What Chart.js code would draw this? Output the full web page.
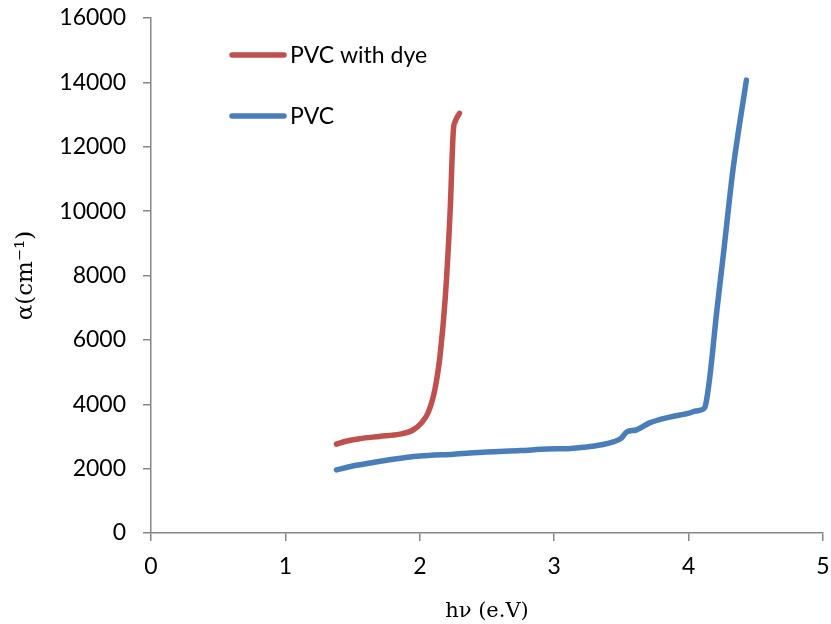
<!DOCTYPE html>
<html>
<head>
<meta charset="utf-8">
<script src="https://cdn.jsdelivr.net/npm/chart.js@4/dist/chart.umd.min.js"></script>
<style>
  html, body { margin: 0; padding: 0; background: #fff; }
  #wrap { width: 831px; height: 624px; }
</style>
</head>
<body>
<div id="wrap"><canvas id="chartCanvas" width="831" height="624"></canvas></div>
<script>
// photon energy (eV) vs absorption coefficient (cm-1)
const dyeEnergy = [1.38, 1.45, 1.55, 1.70, 1.85, 1.95, 2.01, 2.06, 2.10, 2.125, 2.15, 2.19, 2.225, 2.25, 2.265, 2.295]
const dyeAlpha  = [2760, 2850, 2930, 3000, 3070, 3200, 3410, 3720, 4230, 4750, 5480, 7340, 9930, 12520, 12800, 13040]

const pvcEnergy = [1.38, 1.50, 1.63, 1.80, 2.00, 2.25, 2.50, 2.75, 2.95, 3.10, 3.24, 3.35, 3.44, 3.50,
                   3.54, 3.61, 3.71, 3.86, 4.01, 4.05, 4.11, 4.125, 4.155, 4.21, 4.26, 4.33, 4.43]
const pvcAlpha  = [1960, 2080, 2175, 2290, 2390, 2450, 2516, 2560, 2610, 2620, 2670, 2740, 2830, 2950,
                   3140, 3200, 3420, 3600, 3730, 3790, 3850, 3950, 4750, 6900, 8700, 11280, 14070]

const seriesNames = ['PVC with dye', 'PVC']
const xTicks = [0, 1, 2, 3, 4, 5]
const yTicks = [0, 2000, 4000, 6000, 8000, 10000, 12000, 14000, 16000]

function toPoints(xs, ys) {
    return xs.map((x, i) => ({ x: x, y: ys[i] }))
}

const axisColor = '#868686'
const tickFont = { family: 'Lato', size: 23 }

// legend sits inside the plot, drawn by hand
const insideLegend = {
    id: 'insideLegend',
    afterDraw(chart) {
        const ctx = chart.ctx
        const rows = [55, 116]
        ctx.save()
        chart.data.datasets.forEach((ds, i) => {
            const y = rows[i]
            ctx.strokeStyle = ds.borderColor
            ctx.lineWidth = 5.5
            ctx.lineCap = 'round'
            ctx.beginPath()
            ctx.moveTo(232, y)
            ctx.lineTo(284, y)
            ctx.stroke()
            ctx.fillStyle = '#000'
            ctx.font = '23px Lato'
            ctx.textBaseline = 'middle'
            ctx.fillText(ds.label, 290, y + 1)
        })
        ctx.restore()
    }
}

// keep the plot box fixed: no extra room for edge tick labels
function noEdgePadding(scale) {
    scale.paddingLeft = 0
    scale.paddingRight = 0
    scale.paddingTop = 0
    scale.paddingBottom = 0
}

const ctx = document.getElementById('chartCanvas')
new Chart(ctx, {
    type: 'scatter',
    data: {
        datasets: [{
            label: seriesNames[0],
            data: toPoints(dyeEnergy, dyeAlpha),
            borderColor: '#C0504D',
            backgroundColor: '#C0504D',
        }, {
            label: seriesNames[1],
            data: toPoints(pvcEnergy, pvcAlpha),
            borderColor: '#4A7EBB',
            backgroundColor: '#4A7EBB',
        }]
    },
    options: {
        responsive: false,
        animation: false,
        events: [],
        layout: { padding: { left: 0, right: 8, top: 18, bottom: 0 } },
        elements: {
            point: { radius: 0 },
            line: {
                borderWidth: 5.5,
                cubicInterpolationMode: 'monotone',
                borderCapStyle: 'round',
                borderJoinStyle: 'round',
            }
        },
        datasets: { scatter: { showLine: true } },
        plugins: {
            legend: { display: false },
            tooltip: { enabled: false },
        },
        scales: {
            x: {
                type: 'linear',
                min: 0,
                max: 5,
                afterBuildTicks: (scale) => { scale.ticks = xTicks.map(v => ({ value: v })) },
                afterFit: (scale) => { scale.height = 91; noEdgePadding(scale) },
                border: { display: true, color: axisColor, width: 1.5 },
                grid: { drawOnChartArea: false, drawTicks: true, tickLength: 8, color: axisColor, lineWidth: 1.5 },
                ticks: { font: tickFont, color: '#000', padding: 12, maxRotation: 0, callback: (v) => String(v) },
                title: {
                    display: true,
                    text: 'hν (e.V)',
                    font: { family: 'DejaVu Serif', size: 21 },
                    color: '#000',
                    padding: { top: 2, bottom: 0 },
                }
            },
            y: {
                type: 'linear',
                min: 0,
                max: 16000,
                afterBuildTicks: (scale) => { scale.ticks = yTicks.map(v => ({ value: v })) },
                afterFit: (scale) => { scale.width = 151; noEdgePadding(scale) },
                border: { display: true, color: axisColor, width: 1.5 },
                grid: { drawOnChartArea: false, drawTicks: true, tickLength: 8, color: axisColor, lineWidth: 1.5 },
                ticks: { font: tickFont, color: '#000', padding: 17, callback: (v) => String(v) },
                title: {
                    display: true,
                    text: 'α(cm⁻¹)',
                    font: { family: 'DejaVu Serif', size: 23 },
                    color: '#000',
                    padding: { top: 12, bottom: 0 },
                }
            }
        }
    },
    plugins: [insideLegend]
})
</script>
</body>
</html>
